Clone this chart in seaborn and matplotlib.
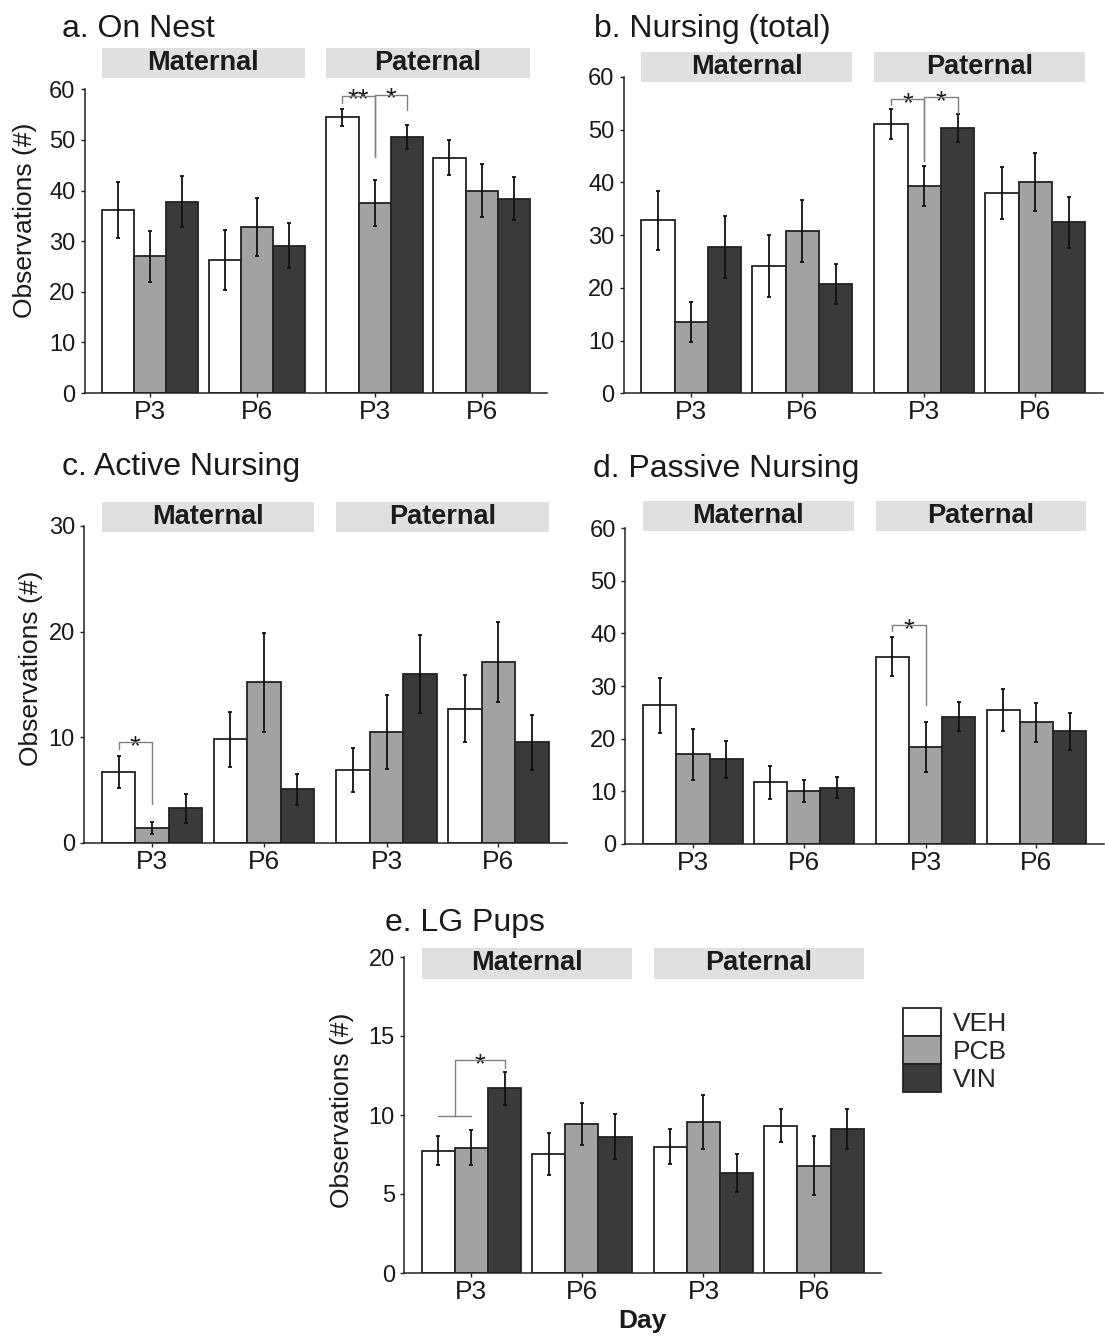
import numpy as np
import pandas as pd
import matplotlib
matplotlib.use("Agg")
import matplotlib.pyplot as plt
import seaborn as sns
from matplotlib import transforms
from matplotlib.patches import Rectangle

sns.set_theme(style="white")
plt.rcParams["font.family"] = ["Liberation Sans", "DejaVu Sans"]

# ---------------- data (order: Maternal P3, Maternal P6, Paternal P3, Paternal P6)
treatments = ["VEH", "PCB", "VIN"]
parents = ["Maternal", "Paternal"]
days = ["P3", "P6"]
colors = ["#ffffff", "#a2a2a2", "#3a3a3a"]

a_veh = [36.2, 26.3, 54.5, 46.5]; a_veh_se = [5.5, 5.9, 1.7, 3.4]
a_pcb = [27.0, 32.8, 37.5, 40.0]; a_pcb_se = [5.1, 5.7, 4.5, 5.2]
a_vin = [37.8, 29.1, 50.6, 38.4]; a_vin_se = [5.1, 4.4, 2.4, 4.3]

b_veh = [32.8, 24.2, 51.1, 38.0]; b_veh_se = [5.6, 5.9, 2.9, 4.9]
b_pcb = [13.6, 30.8, 39.4, 40.1]; b_pcb_se = [3.8, 5.9, 3.8, 5.5]
b_vin = [27.7, 20.7, 50.3, 32.4]; b_vin_se = [5.9, 3.8, 2.6, 4.8]

c_veh = [6.7, 9.8, 6.9, 12.7]; c_veh_se = [1.55, 2.6, 2.1, 3.2]
c_pcb = [1.4, 15.2, 10.5, 17.1]; c_pcb_se = [0.6, 4.7, 3.5, 3.8]
c_vin = [3.25, 5.05, 16.0, 9.5]; c_vin_se = [1.4, 1.5, 3.7, 2.6]

d_veh = [26.3, 11.7, 35.6, 25.5]; d_veh_se = [5.2, 3.1, 3.7, 4.0]
d_pcb = [17.0, 10.1, 18.4, 23.1]; d_pcb_se = [4.9, 2.1, 4.7, 3.7]
d_vin = [16.1, 10.7, 24.2, 21.4]; d_vin_se = [3.5, 1.95, 2.7, 3.5]

e_veh = [7.75, 7.52, 8.0, 9.33]; e_veh_se = [0.92, 1.32, 1.12, 1.05]
e_pcb = [7.94, 9.43, 9.54, 6.8]; e_pcb_se = [1.08, 1.3, 1.7, 1.86]
e_vin = [11.68, 8.63, 6.32, 9.12]; e_vin_se = [1.07, 1.42, 1.19, 1.26]

titles = ["a. On Nest", "b. Nursing (total)", "c. Active Nursing",
          "d. Passive Nursing", "e. LG Pups"]
y_max = [60, 60, 30, 60, 20]
y_ticks = [[0, 10, 20, 30, 40, 50, 60], [0, 10, 20, 30, 40, 50, 60],
           [0, 10, 20, 30], [0, 10, 20, 30, 40, 50, 60], [0, 5, 10, 15, 20]]

# significance brackets: (group index, treatment i, treatment j, top, leg_i, leg_j, label)
sig_a = [(2, 0, 1, 58.7, 57.2, 46.7, "**"), (2, 1, 2, 58.9, 46.7, 56.0, "*")]
sig_b = [(2, 0, 1, 55.8, 54.7, 44.1, "*"), (2, 1, 2, 56.2, 44.1, 53.2, "*")]
sig_c = [(0, 0, 1, 9.5, 8.9, 3.7, "*")]
sig_d = [(2, 0, 1, 41.6, 40.4, 26.4, "*")]

panels = [
    (a_veh, a_veh_se, a_pcb, a_pcb_se, a_vin, a_vin_se),
    (b_veh, b_veh_se, b_pcb, b_pcb_se, b_vin, b_vin_se),
    (c_veh, c_veh_se, c_pcb, c_pcb_se, c_vin, c_vin_se),
    (d_veh, d_veh_se, d_pcb, d_pcb_se, d_vin, d_vin_se),
    (e_veh, e_veh_se, e_pcb, e_pcb_se, e_vin, e_vin_se),
]
sigs = [sig_a, sig_b, sig_c, sig_d, []]

# ---------------- layout (pixels)
W, H = 1105, 1341
fig = plt.figure(figsize=(W / 100, H / 100), dpi=100)

FACET_GAP = 0.1
XLIM = (-0.61, 3.71)
# left, top, bottom, unit (px per group step)
ax_px = [(84.6, 89.3, 393.0, 107.0),
         (623.6, 77.0, 393.3, 111.0),
         (84.0, 526.0, 842.7, 111.7),
         (625.3, 528.0, 844.0, 111.0),
         (404.0, 957.0, 1273.0, 110.5)]
strip_y = [(48, 78), (52, 82), (502, 532), (501, 531), (948, 979)]
title_pos = [(62, 36.7), (594, 36.7), (62, 475), (593, 477), (385, 931.5)]
ylabel_pos = {0: (25, 220), 2: (31, 668), 4: (342, 1110)}

def fx(px):
    return px / W

def fy(py):
    return 1 - py / H

line_col = "#222222"
for k in range(5):
    left, top, bottom, unit = ax_px[k]
    width = unit * (XLIM[1] - XLIM[0])
    width = min(width, W - 1 - left)
    ax = fig.add_axes([fx(left), fy(bottom), width / W, (bottom - top) / H])

    veh, veh_se, pcb, pcb_se, vin, vin_se = panels[k]
    rows = []
    for t, (m, s) in zip(treatments, [(veh, veh_se), (pcb, pcb_se), (vin, vin_se)]):
        for g in range(4):
            p_idx, d_idx = g // 2, g % 2
            rows.append(dict(parent=parents[p_idx], day=days[d_idx], treatment=t,
                             pos=p_idx * (2 + FACET_GAP) + d_idx, mean=m[g], se=s[g]))
    df = pd.DataFrame(rows)

    sns.barplot(data=df, x="pos", y="mean", hue="treatment", hue_order=treatments,
                palette=colors, native_scale=True, width=0.9, gap=0,
                errorbar=None, edgecolor=line_col, linewidth=1.3,
                legend=(k == 4), ax=ax)

    centers = {}
    for ti, (cont, t) in enumerate(zip(ax.containers, treatments)):
        sub = df[df.treatment == t].sort_values("pos")
        xs = [b.get_x() + b.get_width() / 2 for b in cont]
        for g, xv in enumerate(xs):
            centers[(ti, g)] = xv
        ax.errorbar(xs, sub["mean"].values, yerr=sub["se"].values, fmt="none",
                    ecolor="#111111", elinewidth=1.3, capsize=1.6, capthick=1.3,
                    zorder=5)

    group_pos = sorted(df["pos"].unique())
    ax.set_xlim(*XLIM)
    ax.set_ylim(0, y_max[k])
    ax.set_yticks(y_ticks[k])
    ax.set_xticks(group_pos)
    ax.set_xticklabels(days * 2)
    ax.set_xlabel("")
    ax.set_ylabel("")
    for sp in ["top", "right"]:
        ax.spines[sp].set_visible(False)
    for sp in ["left", "bottom"]:
        ax.spines[sp].set_color(line_col)
        ax.spines[sp].set_linewidth(1.1)
    ax.tick_params(axis="y", labelsize=17, length=3, width=1, color=line_col,
                   pad=3.5, left=True, labelcolor="#1a1a1a")
    ax.tick_params(axis="x", labelsize=19, length=3, width=1, color=line_col,
                   pad=2, bottom=True, labelcolor="#1a1a1a")

    # facet strips
    blend = transforms.blended_transform_factory(ax.transData, fig.transFigure)
    y0, y1 = strip_y[k]
    for p_idx, pname in enumerate(parents):
        xa = group_pos[2 * p_idx] - 0.45
        xb = group_pos[2 * p_idx + 1] + 0.45
        rect = Rectangle((xa, fy(y1)), xb - xa, fy(y0) - fy(y1), transform=blend,
                         facecolor="#e0e0e0", edgecolor="none", clip_on=False)
        fig.add_artist(rect)
        fig.text((xa + xb) / 2, (fy(y0) + fy(y1)) / 2, pname, transform=blend,
                 ha="center", va="center", fontsize=19.5, fontweight="bold",
                 color="#1a1a1a")

    # significance brackets
    for (g, ti, tj, top_v, leg_i, leg_j, lab) in sigs[k]:
        xi, xj = centers[(ti, g)], centers[(tj, g)]
        ax.plot([xi, xi, xj, xj], [leg_i, top_v, top_v, leg_j], color="#808080",
                lw=1.0, clip_on=False, zorder=6)
        off = transforms.offset_copy(ax.transData, fig=fig, x=0, y=-8.5, units="points")
        ax.text((xi + xj) / 2, top_v, lab, transform=off, ha="center",
                va="baseline", fontsize=20, color="#1a1a1a")

    if k == 4:
        # special bracket: VEH/PCB pooled vs VIN
        xv, xp, xn = centers[(0, 0)], centers[(1, 0)], centers[(2, 0)]
        mid = (xv + xp) / 2
        ax.plot([xv, xp], [9.94, 9.94], color="#808080", lw=1.0, zorder=6)
        ax.plot([mid, mid, xn, xn], [9.94, 13.47, 13.47, 13.0], color="#808080",
                lw=1.0, zorder=6)
        off = transforms.offset_copy(ax.transData, fig=fig, x=0, y=-8.5, units="points")
        ax.text((mid + xn) / 2, 13.47, "*", transform=off, ha="center",
                va="baseline", fontsize=20, color="#1a1a1a")

        leg = ax.get_legend()
        handles = leg.legend_handles
        labels = [t.get_text() for t in leg.get_texts()]
        leg.remove()
        for h, c in zip(handles, colors):
            h.set_facecolor(c)
            h.set_edgecolor(line_col)
            h.set_linewidth(1.3)
        ax.legend(handles, labels, loc="upper left",
                  bbox_to_anchor=(fx(903), fy(1008)), bbox_transform=fig.transFigure,
                  frameon=False, borderpad=0, borderaxespad=0, handlelength=1.45,
                  handleheight=1.25, labelspacing=0.0, handletextpad=0.45,
                  fontsize=19)

    tx, ty = title_pos[k]
    fig.text(fx(tx), fy(ty), titles[k], ha="left", va="baseline", fontsize=23,
             color="#1a1a1a")
    if k in ylabel_pos:
        lx, ly = ylabel_pos[k]
        fig.text(fx(lx), fy(ly), "Observations (#)", rotation=90, ha="center",
                 va="center", fontsize=19, color="#1a1a1a")

fig.text(fx(642), fy(1321), "Day", ha="center", va="center", fontsize=19,
         fontweight="bold", color="#1a1a1a")

fig.savefig("out.png", dpi=100, facecolor="white")
